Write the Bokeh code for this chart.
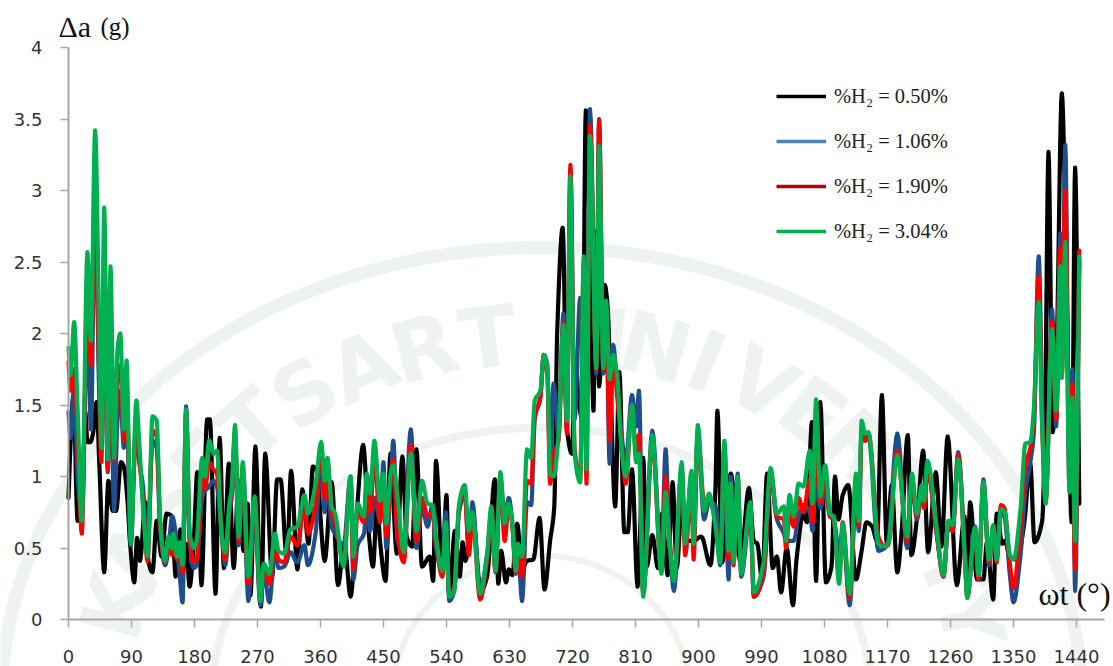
from bokeh.plotting import figure
from bokeh.models import FixedTicker, Label, Legend, LegendItem
from bokeh.core.properties import value
from bokeh.embed import file_html
from bokeh.resources import INLINE
import numpy as np

TICKS_X = list(range(0, 1441, 90))
TICKS_Y = [0, 0.5, 1, 1.5, 2, 2.5, 3, 3.5, 4]
LEGEND_LABELS = ["%H₂ = 0.50%", "%H₂ = 1.06%", "%H₂ = 1.90%", "%H₂ = 3.04%"]

# black series: crank angle (deg) and amplitude (g) at its turning points
theta_black = [0,3,7,13,19,24,27,31,35,40,44,51,57,63,68,75,79,84,88,94,
 98,102,110,114,120,126,133,140,148,153,160,163,168,173,179,184,190,198,202,210,
 216,222,229,236,243,250,256,260,267,275,281,291,298,303,312,318,327,334,343,349,
 354,366,376,385,394,403,412,421,429,435,441,445,453,460,469,477,483,491,497,505,
 516,521,525,534,540,544,552,559,563,567,577,589,598,609,614,618,625,629,634,641,
 648,655,664,673,680,688,694,698,706,712,719,724,729,734,739,745,750,753,758,766,
 770,774,781,787,794,799,805,813,821,826,834,842,848,856,863,869,876,884,893,904,
 917,924,927,934,946,953,960,972,979,984,991,998,1006,1012,1018,1026,1035,1040,1050,1055,
 1062,1068,1074,1082,1090,1095,1100,1106,1114,1125,1133,1140,1148,1155,1162,1169,1176,1184,1190,1199,
 1204,1213,1221,1228,1239,1247,1256,1269,1280,1284,1288,1298,1307,1312,1321,1326,1334,1338,1345,1355,
 1365,1374,1380,1391,1395,1400,1406,1412,1419,1426,1433,1438,1444]
amp_black = [.85,1.24,1.57,.69,.76,1.45,1.24,1.24,1.30,1.52,1.09,.33,.97,.76,.76,1.10,1.07,.85,.53,.26,
 .57,.41,.82,.41,.33,.69,.44,.74,.72,.30,.63,.32,.53,.23,.55,1.03,.24,1.40,1.40,.18,
 1.27,.36,1.09,.36,.97,.48,.81,.17,1.21,.09,1.16,.30,.98,.98,.41,1.04,.35,.91,.53,1.07,
 1.05,.41,.96,.24,.53,.16,.76,1.22,.60,.37,.83,.55,.27,1.16,.46,1.14,.58,.51,1.19,.37,
 .44,.27,1.11,.34,.87,.16,.62,.30,.54,.41,.74,.20,.30,.98,.25,.48,.26,.35,.31,.67,
 .35,.41,.42,.71,.21,.55,.79,1.99,2.74,1.34,1.16,1.82,1.52,1.40,3.56,2.60,1.46,2.71,1.63,2.34,
 2.20,1.68,.79,1.73,.61,.61,1.05,.23,1.13,.37,.59,.36,.74,.31,.96,.36,.79,.55,.55,.58,
 .38,.89,1.46,.40,1.02,.74,.40,.92,.55,.53,.27,1.02,.36,.44,.19,.50,.10,.42,.74,.68,
 1.38,.27,1.52,.26,.37,1.00,.70,.87,.94,.28,.48,.68,.65,.55,1.57,.53,.94,.33,.60,1.29,
 .45,.75,1.18,.47,1.03,.51,1.28,.24,.72,.34,.82,.28,.28,.54,.14,.74,.53,.55,.43,.42,
 .66,1.09,.54,.69,1.36,3.27,1.31,1.96,3.68,2.28,.68,3.16,.81]

# blue, red and green series share turning-point angles
theta = [0,3,8,13,19,27,32,38,44,47,51,56,60,65,70,74,79,83,89,97,
 101,106,113,120,126,131,138,143,148,150,155,159,163,168,173,179,183,191,195,201,
 207,212,219,224,230,233,238,243,249,257,266,274,279,287,295,300,308,317,327,337,
 342,353,361,366,370,376,381,393,403,407,413,422,426,431,437,445,450,454,460,464,
 470,479,489,497,505,513,520,525,534,539,544,551,558,566,572,577,588,598,604,610,
 617,623,629,634,639,642,648,655,661,666,674,679,684,688,693,700,707,712,717,723,
 731,736,740,745,754,758,764,768,773,778,784,789,796,805,811,815,821,834,847,853,
 857,865,876,881,890,893,899,908,915,924,931,937,943,946,950,956,961,974,979,993,
 1003,1012,1022,1025,1030,1036,1043,1050,1059,1063,1068,1074,1081,1088,1093,1101,1106,1116,1125,1129,
 1133,1138,1143,1157,1166,1171,1184,1198,1205,1212,1219,1222,1227,1240,1250,1257,1263,1271,1281,1284,
 1295,1300,1307,1315,1321,1326,1332,1337,1345,1350,1360,1367,1374,1379,1386,1391,1396,1405,1411,1417,
 1419,1424,1430,1434,1438,1444]
amp_green = [1.90,1.71,2.08,1.47,.69,2.57,1.95,3.42,1.95,1.20,2.88,1.12,2.47,1.13,1.89,2.00,1.33,1.81,.53,1.53,
 1.24,.82,.44,1.42,1.39,.70,.41,.58,.50,.60,.44,.54,.38,1.47,.61,.50,.55,1.13,1.00,1.25,
 1.16,1.18,.58,.47,.82,.91,1.36,.58,1.10,.30,.86,.13,.39,.32,.60,.48,.46,.63,.65,.87,
 .74,.95,1.24,.97,1.13,.79,.74,.37,1.00,.44,.81,.72,1.02,.88,1.25,.83,1.02,.67,1.02,1.08,
 .86,.47,1.16,.62,.97,.81,.80,.58,.34,.68,.16,.20,.81,.94,.62,.75,.18,.46,.79,.34,
 1.03,.67,.81,.67,.34,.53,.44,1.19,1.13,1.53,1.60,1.85,1.76,1.02,1.00,1.29,2.06,1.39,3.10,1.16,
 .96,2.54,1.05,3.38,1.76,3.31,1.76,2.23,1.68,1.85,1.70,1.26,1.00,1.50,1.10,1.16,.16,1.29,.32,.89,
 .63,.27,1.10,.53,1.04,.53,1.36,.76,.88,.66,.40,1.25,.48,.95,.40,1.00,.32,.82,.19,.40,
 1.06,.74,.79,.55,.87,.72,.95,.93,1.18,.81,1.54,.86,1.08,.74,.72,.25,.67,.18,1.02,.69,
 1.39,1.30,1.31,.53,.51,.53,1.15,.58,1.02,.74,.94,.83,1.11,.65,.31,.69,.66,1.12,.39,.15,
 .64,.31,.96,.42,.66,.42,.77,.76,.45,.42,.77,1.23,1.24,1.47,2.22,1.34,.81,2.03,1.46,2.47,
 1.69,2.64,.89,1.55,.55,2.54]
amp_blue = [1.45,1.27,1.62,1.00,.72,2.10,1.33,2.95,1.55,1.25,2.40,1.03,1.90,.76,1.40,1.60,1.20,1.45,.52,1.42,
 1.10,.95,.48,1.25,1.20,.62,.38,.50,.72,.70,.50,.30,.12,1.49,.55,.36,.38,.85,.90,.93,
 .97,.93,.60,.38,.75,.85,1.25,.52,1.02,.13,.80,.10,.33,.12,.50,.36,.37,.47,.40,.52,
 .38,.60,1.15,.75,1.00,.65,.60,.52,1.00,.28,.52,.60,.78,.62,.85,.70,1.10,.50,.92,1.25,
 .55,.50,1.33,.50,.78,.65,.80,.50,.34,.75,.13,.20,.75,.88,.50,.82,.20,.45,.70,.36,
 .98,.72,.85,.68,.34,.50,.13,.82,.80,1.40,1.55,1.85,1.78,1.10,1.65,1.30,2.14,1.35,3.15,1.40,
 2.25,2.00,1.50,3.57,1.72,3.50,1.72,2.20,1.09,1.92,1.60,1.35,1.10,1.57,1.35,1.60,.18,1.32,.38,1.19,
 .75,.20,1.05,.55,1.00,.60,1.30,.70,.82,.80,.38,1.10,.28,1.00,.40,1.02,.30,.75,.16,.30,
 1.00,.70,.60,.55,.55,.55,.72,.80,.75,.62,1.00,.78,.90,.72,.70,.48,.62,.10,.88,.62,
 1.30,1.25,1.28,.48,.50,.55,1.30,.50,.95,.70,.88,.80,1.05,.60,.30,.68,.62,1.17,.40,.16,
 .65,.33,.98,.38,.62,.45,.75,.72,.30,.12,.45,.90,1.10,1.30,2.54,1.50,.85,2.17,1.35,2.70,
 1.72,3.32,1.00,1.75,.20,2.50]
amp_red = [1.80,1.60,1.75,1.30,.60,2.30,1.78,3.10,1.65,1.10,2.60,1.05,2.15,1.12,1.70,1.78,1.25,1.60,.65,1.35,
 1.15,.85,.41,1.32,1.28,.66,.40,.55,.45,.55,.42,.48,.33,1.45,.58,.40,.42,1.00,.92,1.10,
 1.05,1.02,.60,.42,.78,.88,1.30,.55,1.05,.25,.82,.14,.37,.25,.50,.42,.40,.58,.52,.80,
 .60,.80,1.22,.85,1.08,.74,.68,.40,.98,.35,.75,.68,.95,.75,1.15,.68,.95,.58,.95,1.12,
 .60,.40,1.22,.55,.85,.72,.75,.55,.30,.62,.18,.22,.78,.90,.45,.72,.14,.42,.75,.33,
 1.00,.55,.80,.66,.32,.45,.30,.97,.95,1.42,1.55,1.85,1.72,.95,1.15,1.25,2.07,1.30,3.18,1.20,
 .98,2.50,.95,3.45,1.75,3.49,1.75,2.22,1.25,1.85,1.55,1.30,.95,1.50,1.15,1.29,.18,1.25,.35,1.00,
 .65,.30,1.05,.45,.95,.42,1.30,.82,.85,.68,.45,1.20,.42,.90,.38,.98,.35,.78,.16,.33,
 1.03,.72,.70,.50,.75,.65,.85,.75,.98,.68,1.20,.82,.95,.72,.70,.30,.68,.15,.95,.66,
 1.32,1.25,1.30,.58,.51,.52,1.18,.55,.98,.72,.90,.78,1.05,.62,.30,.65,.62,1.15,.38,.16,
 .62,.28,.95,.40,.65,.40,.80,.78,.38,.22,.65,1.08,1.20,1.40,2.40,1.35,.82,2.08,1.40,2.60,
 1.70,3.00,.90,1.65,.35,2.58]


def smooth(x, y, per=8):
    """Render a series as a smoothed curve through its points, like a spreadsheet smoothed line."""
    x, y = np.asarray(x, float), np.asarray(y, float)
    d = np.diff(y) / np.diff(x)
    m = np.zeros_like(y)
    for i in range(1, len(y) - 1):
        if d[i - 1] * d[i] > 0:
            m[i] = 2 * d[i - 1] * d[i] / (d[i - 1] + d[i])
    m[0], m[-1] = d[0], d[-1]
    xs, ys = [], []
    for i in range(len(x) - 1):
        h = x[i + 1] - x[i]
        t = np.linspace(0, 1, per, endpoint=False)
        xs.extend(x[i] + t * h)
        ys.extend((2*t**3 - 3*t**2 + 1) * y[i] + (t**3 - 2*t**2 + t) * h * m[i]
                  + (-2*t**3 + 3*t**2) * y[i + 1] + (t**3 - t**2) * h * m[i + 1])
    xs.append(x[-1]); ys.append(y[-1])
    return xs, ys


# the frame fills the page so the title, axis label and watermark can sit anywhere
PX_DEG, PX_G = 0.7, 143.0
X0, Y0 = 68, 619
W, H = 1113, 666
def dx(px): return (px - X0) / PX_DEG
def dy(py): return (Y0 - py) / PX_G

p = figure(width=W, height=H, x_range=(dx(0), dx(W)), y_range=(dy(H), dy(0)),
           output_backend="svg", toolbar_location=None,
           min_border_left=0, min_border_right=0, min_border_top=0, min_border_bottom=0)
p.outline_line_color = None
p.grid.visible = False
p.border_fill_color = "white"

# faint watermark seal behind the chart
WM = "#EFF3F0"
CX, CY = 541, 700
for w, h, lw in [(1080, 906, 13), (660, 546, 8), (300, 290, 6)]:
    p.ellipse(x=[dx(CX)], y=[dy(CY)], width=[w], height=[h], width_units="screen", height_units="screen",
              fill_color=None, line_color=WM, line_width=lw)
wm_letters = list("KASETSARTUNIVERSITY")
wm_phi = [-75, -66.5, -58, -49.5, -41, -32.5, -24, -15.5, -7, 7, 15, 22, 30, 38, 46, 54, 61, 69, 77]
phi = np.radians(wm_phi)
p.text(x=dx(CX + 440 * np.sin(phi)), y=dy(CY - 365 * np.cos(phi)), text=wm_letters, angle=-phi,
       text_font=value("DejaVu Sans"), text_font_style="bold", text_font_size="84px",
       text_color=WM, text_align="center", text_baseline="middle")

p.xaxis[0].fixed_location = 0
p.yaxis[0].fixed_location = 0
p.xaxis[0].bounds = (0, dx(1104))
p.yaxis[0].bounds = (0, 4)
for a in (p.xaxis[0], p.yaxis[0]):
    a.axis_line_color = "#A6A6A6"
    a.axis_line_width = 2
    a.major_tick_line_color = "#A6A6A6"
    a.major_tick_line_width = 1.5
    a.minor_tick_line_color = None
    a.major_tick_in = 0
    a.major_tick_out = 8
    a.major_label_text_font = "DejaVu Sans"
    a.major_label_text_font_size = "18px"
    a.major_label_text_color = "#333333"
p.xaxis[0].ticker = FixedTicker(ticks=TICKS_X)
p.yaxis[0].ticker = FixedTicker(ticks=TICKS_Y)
p.yaxis[0].major_label_overrides = {v: f"{v:g}" for v in TICKS_Y}
p.xaxis[0].major_label_standoff = 22
p.yaxis[0].major_label_standoff = 18

series = [(theta_black, amp_black, "#000000"), (theta, amp_blue, "#1F4E8C"),
          (theta, amp_red, "#FF0000"), (theta, amp_green, "#00B050")]
for tx, ty, c in series:
    xs, ys = smooth(tx, ty)
    p.line(xs, ys, line_color=c, line_width=4.2, line_join="round", line_cap="round")

items = []
nan = float("nan")
for lab, c in zip(LEGEND_LABELS, ["#000000", "#4F81BD", "#C00000", "#00B050"]):
    r = p.line(x=[nan, nan], y=[nan, nan], line_color=c, line_width=3.5)
    items.append(LegendItem(label=lab, renderers=[r]))
legend = Legend(items=items, location=(776, 422), orientation="vertical",
                glyph_width=50, glyph_height=14, label_height=26, label_standoff=8,
                spacing=19, padding=0, margin=0, background_fill_alpha=0, border_line_color=None,
                label_text_font="Liberation Serif", label_text_font_size="20.5px",
                label_text_color="#222222")
p.add_layout(legend, "center")

for txt, x, y, size in [("Δa", dx(58), dy(26), "30px"), ("(g)", dx(100), dy(26), "25px"),
                        ("ωt (°)", dx(1038), dy(593), "32px")]:
    p.add_layout(Label(x=x, y=y, text=txt, text_font="Liberation Serif", text_font_size=size,
                       text_color="#111111", text_baseline="alphabetic"))

open("out.html", "w").write(file_html(p, INLINE))
